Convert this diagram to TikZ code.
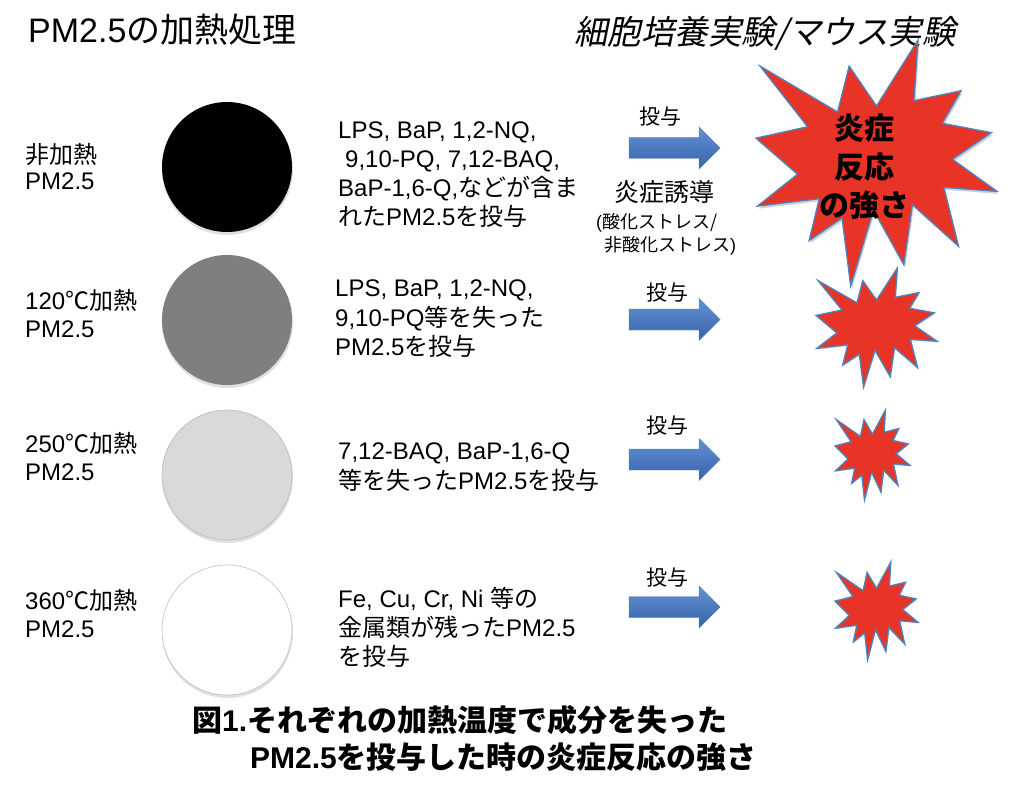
\documentclass[tikz,border=0pt]{standalone}
\usepackage{fontspec}
\setmainfont{Liberation Sans}
\newfontfamily\jp{Noto Sans CJK JP}
\newfontfamily\jpit[FakeSlant=0.2]{Noto Sans CJK JP}
\newcommand{\J}[1]{{\jp #1}}
\definecolor{burstred}{RGB}{232,52,38}
\definecolor{burstblue}{RGB}{79,129,189}
\definecolor{arrtop}{RGB}{98,144,214}
\definecolor{arrbot}{RGB}{56,98,168}
\definecolor{circgray}{RGB}{127,127,127}
\definecolor{circlight}{RGB}{217,217,217}
\tikzset{
  bodytext/.style={font=\fontsize{24}{29}\selectfont, anchor=base west, inner sep=0pt},
  doselabel/.style={font=\jp\fontsize{21}{25}\selectfont, inner sep=0pt},
  bursttext/.style={font=\jp\bfseries\fontsize{30}{36}\selectfont, inner sep=0pt},
  captext/.style={font=\bfseries\fontsize{30}{36}\selectfont, anchor=base west, inner sep=0pt},
  burststyle/.style={fill=burstred, draw=burstblue, line width=1.3pt, line join=miter},
  burstshadow/.style={fill=black, opacity=0.18},
  blockarrow/.style={top color=arrtop, bottom color=arrbot, draw=arrbot!80, line width=0.4pt},
  disc/.style={circle, minimum size=130pt, inner sep=0pt},
  discshadow/.style={circle, minimum size=131pt, inner sep=0pt, fill=black, opacity=0.12},
}
\newcommand{\mkburst}[5]{%
  \begin{scope}[shift={(#2,#3)}, xscale=#4/216, yscale=#5/216]
    \fill[burstshadow, shift={(1.2,2.2)}] (108,58) -- (145.22,0) -- (141.55,53.25) -- (183.80,44.57) -- (167.02,73.15) -- (210.97,81.37) -- (176.07,104.75) -- (216,132.90) -- (168.37,129.42) -- (181.45,180.95) -- (140.20,144.57) -- (132.47,197.37) -- (105.32,149.35) -- (84.85,216) -- (77.15,156.27) -- (47.62,176.17) -- (56.67,139.37) -- (1.35,145.87) -- (37.22,117.75) -- (0,86.15) -- (46.27,76.17) -- (3.70,22.95) -- (73.12,63.20) -- (83.52,22.95) -- cycle;
    \draw[burststyle] (108,58) -- (145.22,0) -- (141.55,53.25) -- (183.80,44.57) -- (167.02,73.15) -- (210.97,81.37) -- (176.07,104.75) -- (216,132.90) -- (168.37,129.42) -- (181.45,180.95) -- (140.20,144.57) -- (132.47,197.37) -- (105.32,149.35) -- (84.85,216) -- (77.15,156.27) -- (47.62,176.17) -- (56.67,139.37) -- (1.35,145.87) -- (37.22,117.75) -- (0,86.15) -- (46.27,76.17) -- (3.70,22.95) -- (73.12,63.20) -- (83.52,22.95) -- cycle;
    \coordinate (#1) at (108,108);
  \end{scope}}
\newcommand{\mkarrow}[1]{%
  \shade[blockarrow] (#1) ++(0,-10.5) -- ++(70,0) -- ++(0,-10.5) -- ++(21,21) -- ++(-21,21) -- ++(0,-10.5) -- ++(-70,0) -- cycle;}
\begin{document}
\begin{tikzpicture}[x=1pt, y=-1pt]
\useasboundingbox[fill=white] (0,0) rectangle (1014,786);

% titles
\node[anchor=base west, inner sep=0pt, font=\fontsize{34}{40}\selectfont] (title) at (28,43) {PM2.5\J{の加熱処理}};
\node[anchor=base west, inner sep=0pt, font=\fontsize{33.5}{40}\selectfont] (exptitle) at (574,45) {{\jpit 細胞培養実験/マウス実験}};

% discs
\node[discshadow] (s1) at (227.5,169.5) {};
\node[disc, fill=black] (c1) at (227,167) {};
\node[discshadow] (s2) at (227.5,322.5) {};
\node[disc, fill=circgray] (c2) at (227,320) {};
\node[discshadow] (s3) at (227.5,477.5) {};
\node[disc, fill=circlight, draw=gray!55, line width=0.6pt] (c3) at (227,475) {};
\node[discshadow] (s4) at (227.5,632.5) {};
\node[disc, fill=white, draw=gray!50, line width=0.6pt] (c4) at (227,630) {};

% left labels
\node[bodytext] (l1a) at (25,164) {\J{非加熱}};
\node[bodytext] (l1b) at (25,190) {PM2.5};
\node[bodytext] (l2a) at (25,309) {120\J{℃加熱}};
\node[bodytext] (l2b) at (25,337) {PM2.5};
\node[bodytext] (l3a) at (25,452) {250\J{℃加熱}};
\node[bodytext] (l3b) at (25,480) {PM2.5};
\node[bodytext] (l4a) at (25,609) {360\J{℃加熱}};
\node[bodytext] (l4b) at (25,637) {PM2.5};

% middle texts
\node[bodytext] (t1a) at (338,139) {LPS, BaP, 1,2-NQ,};
\node[bodytext] (t1b) at (345,168) {9,10-PQ, 7,12-BAQ,};
\node[bodytext] (t1c) at (338,197) {BaP-1,6-Q,\J{などが含ま}};
\node[bodytext] (t1d) at (338,226) {\J{れた}PM2.5\J{を投与}};

\node[bodytext] (t2a) at (335,296) {LPS, BaP, 1,2-NQ,};
\node[bodytext] (t2b) at (335,326) {9,10-PQ\J{等を失った}};
\node[bodytext] (t2c) at (335,355) {PM2.5\J{を投与}};

\node[bodytext] (t3a) at (338,459) {7,12-BAQ, BaP-1,6-Q};
\node[bodytext] (t3b) at (338,489) {\J{等を失った}PM2.5\J{を投与}};

\node[bodytext] (t4a) at (338,607) {Fe, Cu, Cr, Ni \J{等の}};
\node[bodytext] (t4b) at (338,636) {\J{金属類が残った}PM2.5};
\node[bodytext] (t4c) at (338,665) {\J{を投与}};

% arrows
\coordinate (a1) at (629,148);
\coordinate (a2) at (629,319.5);
\coordinate (a3) at (629,459.5);
\coordinate (a4) at (629,607);
\mkarrow{a1}
\mkarrow{a2}
\mkarrow{a3}
\mkarrow{a4}
\node[doselabel] (d1) at (660,117) {投与};
\node[doselabel] (d2) at (667,293) {投与};
\node[doselabel] (d3) at (667,426) {投与};
\node[doselabel] (d4) at (667,578) {投与};

% induction text
\node[inner sep=0pt, font=\jp\fontsize{25}{30}\selectfont] (ind) at (664,192) {炎症誘導};
\node[inner sep=0pt, font=\fontsize{18}{21}\selectfont, anchor=west] (ox1) at (596,223) {(\J{酸化ストレス/}};
\node[inner sep=0pt, font=\fontsize{18}{21}\selectfont, anchor=west] (ox2) at (604,246) {\J{非酸化ストレス})};

% bursts
\mkburst{b1}{756}{40}{241}{246}
\mkburst{b2}{816}{268}{121}{119}
\mkburst{b3}{835}{410}{75}{90}
\mkburst{b4}{835}{562}{83}{98}
\node[bursttext] (bt1) at (864,128) {炎症};
\node[bursttext] (bt2) at (864,167) {反応};
\node[bursttext] (bt3) at (864,205) {の強さ};

% caption
\node[captext] (cap1) at (192,731) {\J{図}1.\J{それぞれの加熱温度で成分を失った}};
\node[captext] (cap2) at (250,768) {PM2.5\J{を投与した時の炎症反応の強さ}};
\end{tikzpicture}
\end{document}
